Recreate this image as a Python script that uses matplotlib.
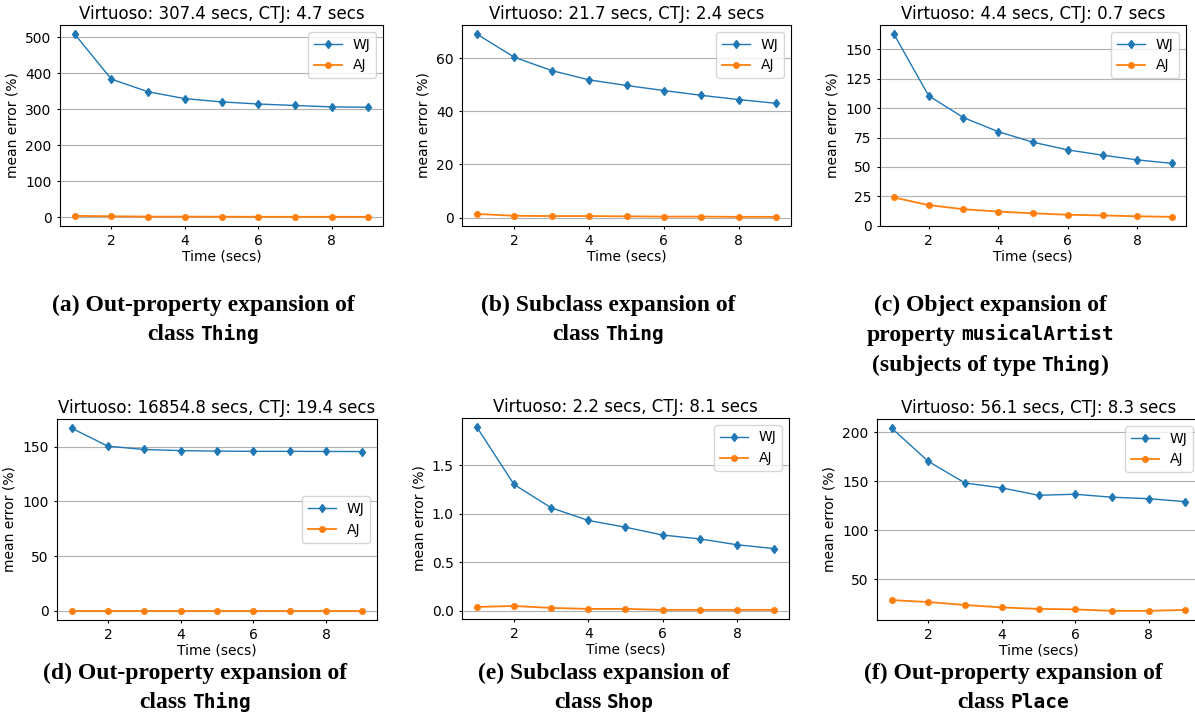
import matplotlib
matplotlib.use('Agg')
import matplotlib.pyplot as plt
from matplotlib.offsetbox import TextArea, HPacker, DrawingArea, AnnotationBbox

W, H = 1195, 715

time_secs = [1, 2, 3, 4, 5, 6, 7, 8, 9]

titles = [
    'Virtuoso: 307.4 secs, CTJ: 4.7 secs',
    'Virtuoso: 21.7 secs, CTJ: 2.4 secs',
    'Virtuoso: 4.4 secs, CTJ: 0.7 secs',
    'Virtuoso: 16854.8 secs, CTJ: 19.4 secs',
    'Virtuoso: 2.2 secs, CTJ: 8.1 secs',
    'Virtuoso: 56.1 secs, CTJ: 8.3 secs',
]

wj_a = [508, 383, 348, 329, 320, 314, 310, 306, 305]
aj_a = [3.5, 2.5, 1.5, 1.5, 1.2, 1.0, 1.0, 1.0, 0.8]
wj_b = [69.0, 60.3, 55.3, 51.8, 49.7, 47.8, 46.0, 44.4, 43.0]
aj_b = [1.4, 0.7, 0.6, 0.6, 0.5, 0.4, 0.4, 0.3, 0.3]
wj_c = [163, 110.5, 92, 80, 71, 64.5, 60, 56, 53]
aj_c = [24, 17.5, 14, 12, 10.5, 9.3, 8.7, 8, 7.5]
wj_d = [167, 150.5, 147.5, 146.5, 146, 145.8, 145.8, 145.7, 145.6]
aj_d = [0.1, 0.1, 0.1, 0.1, 0.1, 0.1, 0.1, 0.1, 0.1]
wj_e = [1.89, 1.30, 1.06, 0.93, 0.86, 0.78, 0.74, 0.68, 0.64]
aj_e = [0.04, 0.05, 0.03, 0.02, 0.02, 0.01, 0.01, 0.01, 0.01]
wj_f = [204, 170, 148, 143, 135.5, 136.5, 133.5, 132, 129]
aj_f = [28.5, 26.5, 23.5, 21, 19.5, 19, 17.5, 17.5, 18.5]

wj_series = [wj_a, wj_b, wj_c, wj_d, wj_e, wj_f]
aj_series = [aj_a, aj_b, aj_c, aj_d, aj_e, aj_f]

# mono parts are between backticks
captions = [
    ['(a) Out-property expansion of', 'class `Thing`'],
    ['(b) Subclass expansion of', 'class `Thing`'],
    ['(c) Object expansion of', 'property `musicalArtist`', '(subjects of type `Thing`)'],
    ['(d) Out-property expansion of', 'class `Thing`'],
    ['(e) Subclass expansion of', 'class `Shop`'],
    ['(f) Out-property expansion of', 'class `Place`'],
]

# axes boxes in pixels: left, right, top, bottom
boxes = [
    (60, 383, 25, 226),
    (462, 791, 25, 226),
    (880, 1186, 25, 226),
    (57, 377, 419, 620),
    (462, 789, 418, 619),
    (877, 1200, 419, 620),
]
legend_loc = ['upper right'] * 6
legend_loc[3] = 'center right'

cap_x = [203, 608, 990, 195, 604, 1013]
cap_y = [[305, 335, 365], [305, 335, 365], [305, 335, 365],
         [673, 702], [673, 702], [673, 702]]

plt.rcParams['font.family'] = 'DejaVu Sans'
plt.rcParams['font.size'] = 10
plt.rcParams['xtick.major.size'] = 2.5
plt.rcParams['ytick.major.size'] = 2.5

fig = plt.figure(figsize=(W / 100, H / 100), dpi=100)

for i in range(6):
    l, r, t, b = boxes[i]
    ax = fig.add_axes([l / W, 1 - b / H, (r - l) / W, (b - t) / H])
    ax.plot(time_secs, wj_series[i], marker='d', ms=4.5, color='tab:blue', lw=1, label='WJ')
    ax.plot(time_secs, aj_series[i], marker='o', ms=4, color='tab:orange', lw=1.3, label='AJ')
    ax.yaxis.grid(True, color='#b0b0b0', lw=0.8)
    ax.set_title(titles[i], fontsize=12, pad=4)
    ax.set_xlabel('Time (secs)', labelpad=1)
    ax.set_ylabel('mean error (%)')
    ax.legend(loc=legend_loc[i])

serif = dict(family='Liberation Serif', weight='bold', size=17, color='black')
mono = dict(family='DejaVu Sans Mono', weight='bold', size=14, color='black')
gap = 4.2


def caption(xc, yc, line):
    parts = []
    for k, seg in enumerate(line.split('`')):
        if not seg:
            continue
        core = seg.strip()
        if seg.startswith(' '):
            parts.append(DrawingArea(gap, 1))
        if core:
            parts.append(TextArea(core, textprops=mono if k % 2 else serif))
        if seg.endswith(' ') and core:
            parts.append(DrawingArea(gap, 1))
    pack = HPacker(children=parts, align='baseline', pad=0, sep=0)
    ab = AnnotationBbox(pack, (xc / W, 1 - yc / H), xycoords='figure fraction',
                        frameon=False, box_alignment=(0.5, 0.5), pad=0)
    fig.add_artist(ab)


for i in range(6):
    for line, y in zip(captions[i], cap_y[i]):
        caption(cap_x[i], y, line)

fig.savefig('out.png', dpi=100)
